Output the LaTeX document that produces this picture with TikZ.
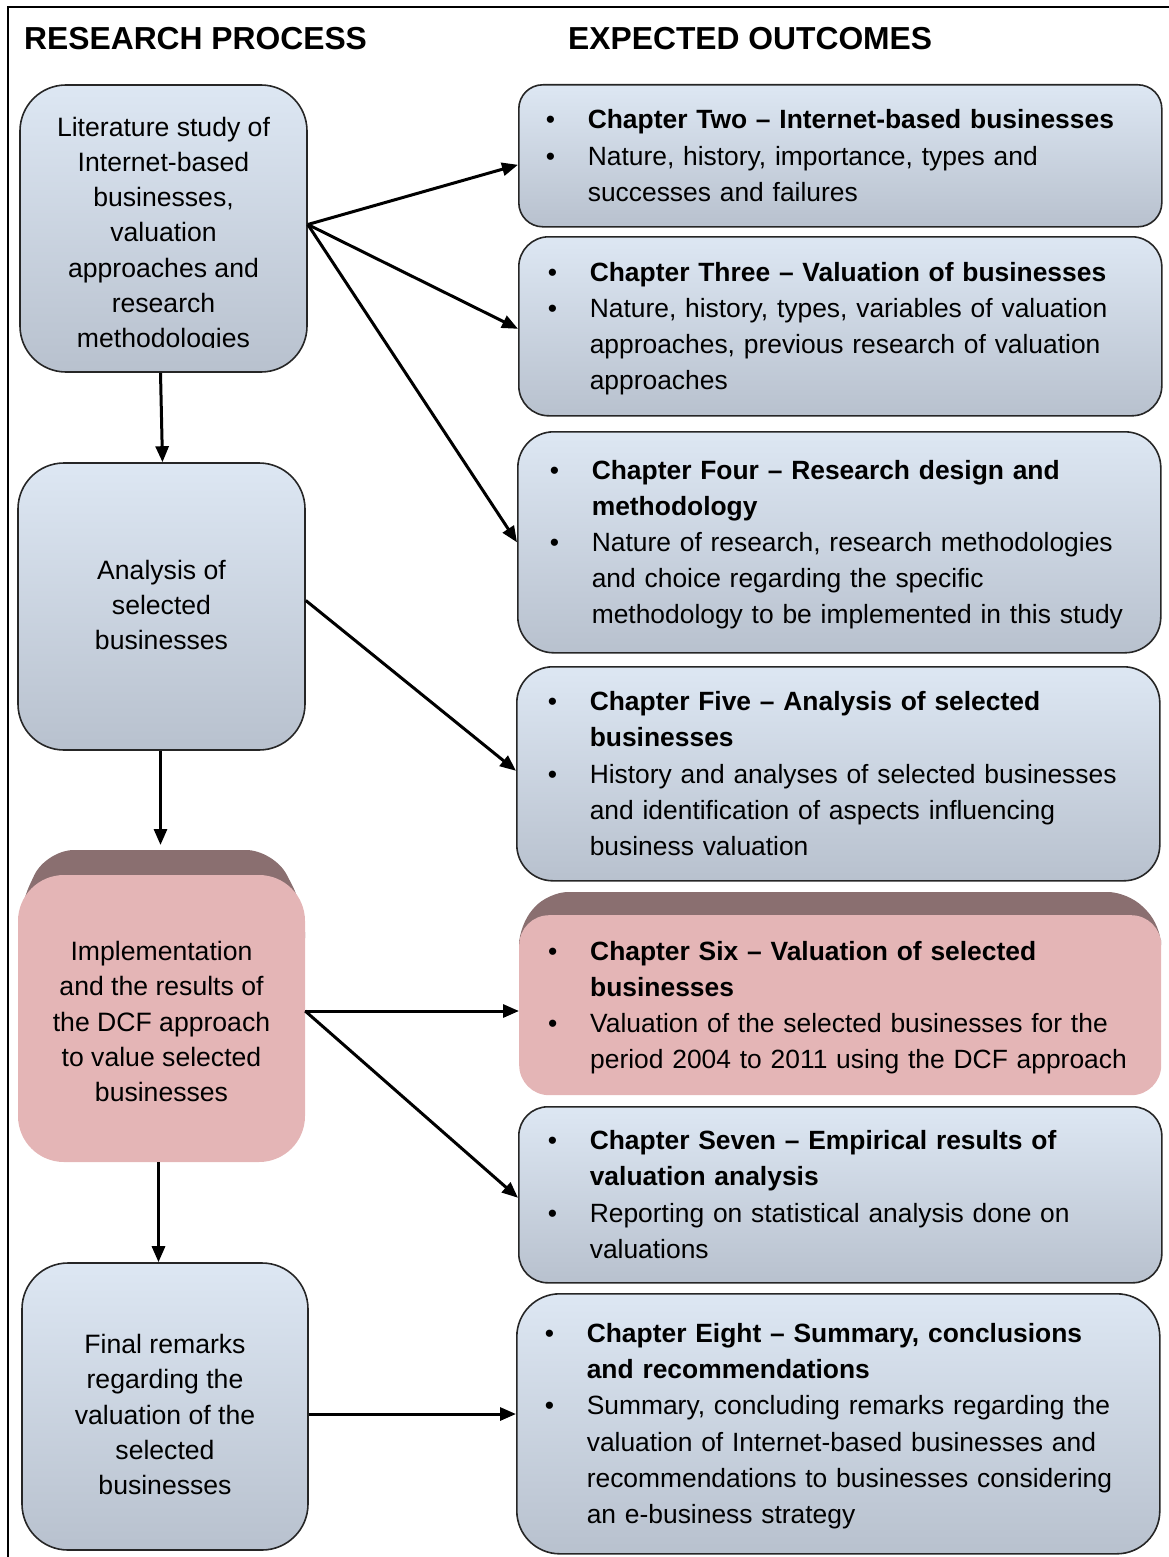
\documentclass[tikz,border=0pt]{standalone}
\usepackage{fontspec}
\setmainfont{Liberation Sans}
\usetikzlibrary{arrows.meta,calc}

\definecolor{boxtop}{RGB}{221,231,243}
\definecolor{boxbot}{RGB}{184,193,206}
\definecolor{pinkface}{RGB}{228,181,182}
\definecolor{pinkbevel}{RGB}{138,111,112}

\newcommand\bodysize{\fontsize{26.4}{36.1}\selectfont}
\newcommand\leftsize{\fontsize{26.6}{35.2}\selectfont}
\newcommand\headsize{\fontsize{31.8}{38}\selectfont\bfseries}
% two-column bullet list used inside the outcome boxes, set a little low
\newcommand\outlist[1]{\raisebox{-2pt}[\height][\depth]{\begin{tabular}{@{}p{42pt}@{}l@{}}#1\end{tabular}}}

\tikzset{
  procbox/.style={draw=black!85, line width=1.6pt, top color=boxtop, bottom color=boxbot,
    minimum width=287pt, minimum height=287pt, rounded corners=46pt, inner sep=0pt},
  pinkproc/.style={fill=pinkface, draw=none,
    minimum width=287pt, minimum height=287pt, rounded corners=46pt, inner sep=0pt},
  proctext/.style={align=center, font=\leftsize, inner sep=0pt},
  outbox/.style={draw=black!85, line width=1.6pt, top color=boxtop, bottom color=boxbot,
    anchor=north west, text width=583pt, inner xsep=30pt, inner ysep=0pt,
    align=left, font=\bodysize},
  pinkout/.style={fill=pinkface, draw=none,
    anchor=north west, text width=582pt, inner xsep=30pt, inner ysep=0pt,
    align=left, font=\bodysize},
  arr/.style={line width=3pt, -{Triangle[length=16pt,width=13pt]}},
  head/.style={anchor=base west, font=\headsize, inner sep=0pt},
}

\begin{document}
\begin{tikzpicture}[x=1pt,y=-1pt]
\useasboundingbox (0,0) rectangle (1169,1557);

% frame lines
\draw[line width=2pt] (8,1557) -- (8,7) -- (1169,7);

% column titles
\node[head] (hProc) at (24,50) {RESEARCH PROCESS};
\node[head] (hOut) at (568,50) {EXPECTED OUTCOMES};

% ---------- research process column ----------
\node[procbox] (lit) at (163.5,228.5) {};
\begin{scope}
  \clip (lit.north west) rectangle ([yshift=25pt]lit.south east);
  \node[proctext] (litText) at ([yshift=-6.5pt]lit.center)
    {Literature study of\\Internet-based\\businesses,\\valuation\\approaches and\\research\\methodologies};
\end{scope}

\node[procbox] (ana) at (161.5,606.5) {};
\node[proctext] (anaText) at ([yshift=1.5pt]ana.center) {Analysis of\\selected\\businesses};

% raised pink block: back bevel, then front face
\fill[pinkbevel, rounded corners=28pt] (18,960) -- (18,910) -- (46,850) -- (274,850) -- (305,910) -- (305,960) -- cycle;
\coordinate (impTop) at (161.5,850);
\node[pinkproc] (imp) at (161.5,1018.5) {};
\node[proctext] (impText) at ([yshift=-3pt]imp.center)
  {Implementation\\and the results of\\the DCF approach\\to value selected\\businesses};

\node[procbox, minimum width=286pt] (fin) at (165,1406.5) {};
\node[proctext] (finText) at ([yshift=-8pt]fin.center)
  {Final remarks\\regarding the\\valuation of the\\selected\\businesses};

% ---------- expected outcomes column ----------
\node[outbox, minimum height=142pt, rounded corners=24pt, inner xsep=27pt, text width=589pt] (two) at (518,84) {\outlist{%
  \textbullet & \textbf{Chapter Two – Internet-based businesses}\\
  \textbullet & Nature, history, importance, types and\\
              & successes and failures}};

\node[outbox, minimum height=179pt, rounded corners=30pt, inner xsep=29pt, text width=585pt] (three) at (518,236) {\outlist{%
  \textbullet & \textbf{Chapter Three – Valuation of  businesses}\\
  \textbullet & Nature, history, types, variables of valuation\\
              & approaches, previous research of valuation\\
              & approaches}};

\node[outbox, minimum height=221pt, rounded corners=36pt, inner xsep=32pt, text width=579pt] (four) at (517,431) {\outlist{%
  \textbullet & \textbf{Chapter Four – Research design and}\\
              & \textbf{methodology}\\
  \textbullet & Nature of research, research methodologies\\
              & and choice regarding the specific\\
              & methodology to be implemented in this study}};

\node[outbox, minimum height=214pt, rounded corners=36pt, inner xsep=31pt, text width=581pt] (five) at (516,666) {\outlist{%
  \textbullet & \textbf{Chapter Five – Analysis of selected}\\
              & \textbf{businesses}\\
  \textbullet & History and analyses of  selected businesses\\
              & and identification of aspects influencing\\
              & business valuation}};

\fill[pinkbevel, rounded corners=20pt] (519,960) -- (519,925) -- (548,892) -- (1128,892) -- (1161,925) -- (1161,960) -- cycle;
\node[pinkout, minimum height=180pt, rounded corners=30pt, inner xsep=29pt, text width=584pt] (six) at (519,915) {\outlist{%
  \textbullet & \textbf{Chapter Six – Valuation of selected}\\
              & \textbf{businesses}\\
  \textbullet & Valuation of the selected businesses for the\\
              & period 2004 to 2011 using the DCF approach}};

\node[outbox, minimum height=176pt, rounded corners=29pt, inner xsep=29pt, text width=585pt] (seven) at (518,1106) {\outlist{%
  \textbullet & \textbf{Chapter Seven – Empirical results of}\\
              & \textbf{valuation analysis}\\
  \textbullet & Reporting on statistical analysis done on\\
              & valuations}};

\node[outbox, minimum height=260pt, rounded corners=43pt, inner xsep=28pt, text width=587pt] (eight) at (516,1293) {\outlist{%
  \textbullet & \textbf{Chapter Eight – Summary, conclusions}\\
              & \textbf{and recommendations}\\
  \textbullet & Summary, concluding remarks regarding the\\
              & valuation of Internet-based businesses and\\
              & recommendations to businesses considering\\
              & an e-business strategy}};

% ---------- connectors ----------
\coordinate (litOut) at ([yshift=4pt]lit.east);
\draw[arr] (litOut) -- ([yshift=-9pt]two.west);
\draw[arr] (litOut) -- ([yshift=-2.5pt]three.west);
\draw[arr] (litOut) -- (four.west);

\coordinate (anaOut) at ([yshift=6pt]ana.east);
\draw[arr] (anaOut) -- ([yshift=3pt]five.west);

\coordinate (impOut) at ([yshift=7.5pt]imp.east);
\draw[arr] (impOut) -- (impOut -| six.west);
\draw[arr] (impOut) -- ([yshift=-3pt]seven.west);

\coordinate (finOut) at ([yshift=-7.5pt]fin.east);
\draw[arr] (finOut) -- (finOut -| eight.west);

\draw[arr] ([xshift=-3pt]lit.south) -- ([xshift=-1pt]lit.south |- ana.north);
\draw[arr] ([xshift=-1pt]ana.south) -- ([xshift=-1pt,yshift=5pt]impTop);
\draw[arr] ([xshift=-3pt]imp.south) -- ([xshift=-3pt]imp.south |- fin.north);
\end{tikzpicture}
\end{document}
